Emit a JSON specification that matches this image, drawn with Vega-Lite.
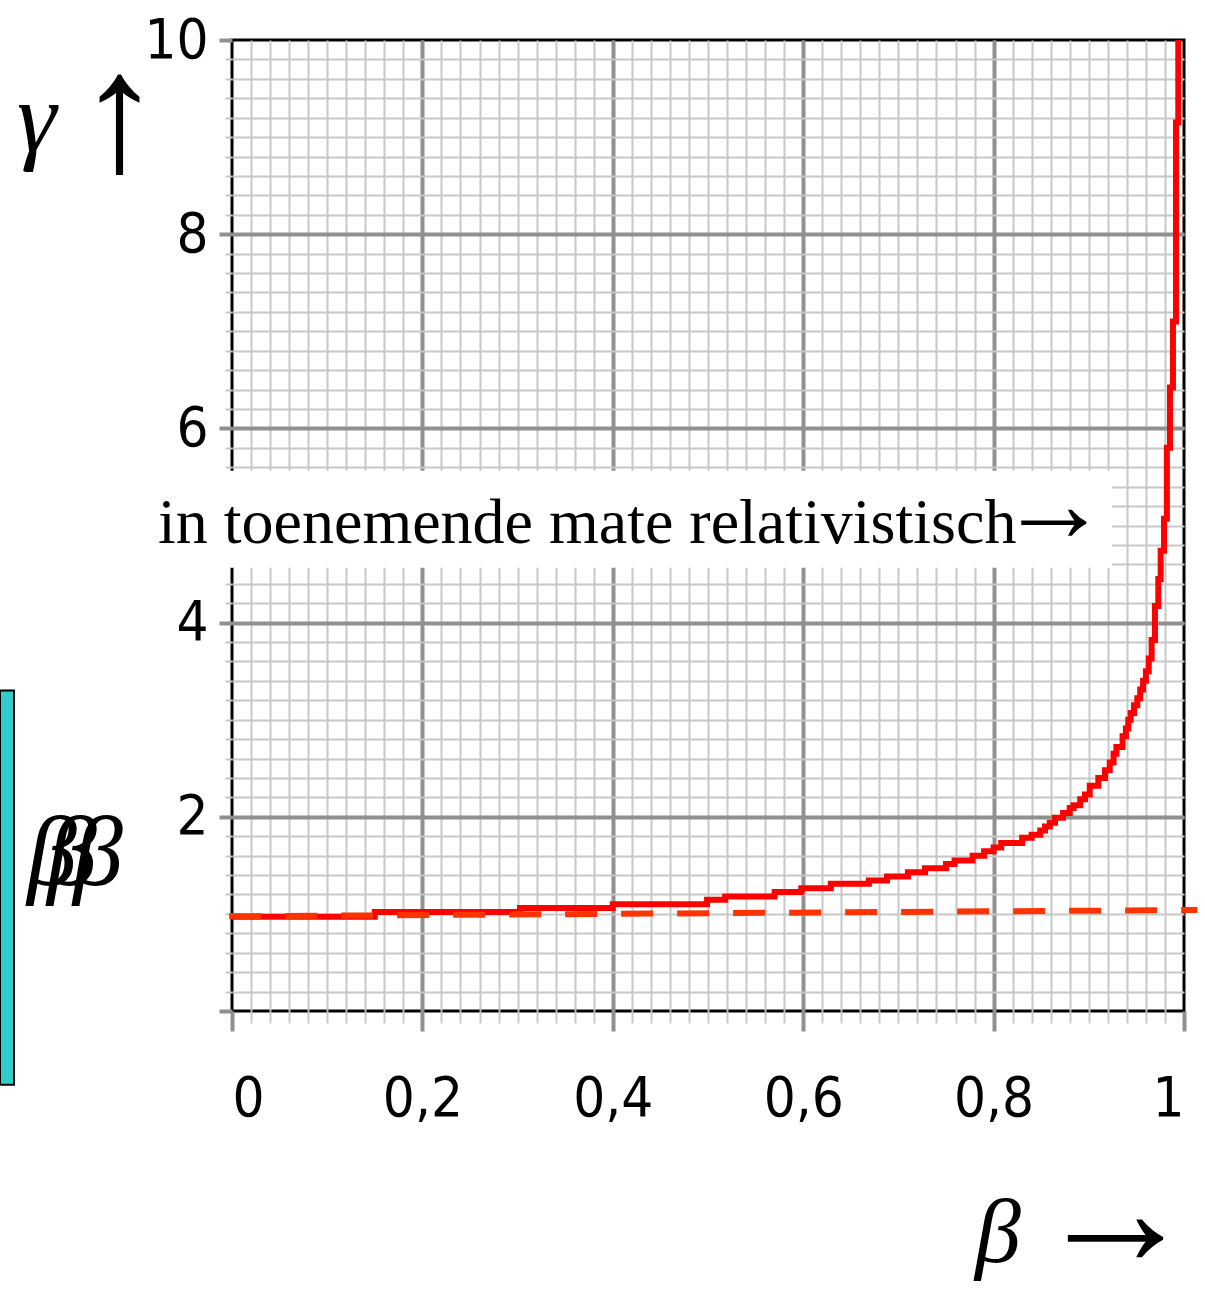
{
  "$schema": "https://vega.github.io/schema/vega-lite/v6.json",
  "width": 952,
  "height": 971,
  "autosize": {"type": "none"},
  "padding": {"left": 232, "top": 40, "right": 21, "bottom": 288},
  "background": "white",
  "config": {
    "view": {"stroke": "#000000", "strokeWidth": 3},
    "axis": {
      "domain": false,
      "title": null,
      "labelFont": "DejaVu Sans Condensed, Roboto Condensed, Liberation Sans Narrow, Roboto",
      "labelFontSize": 56,
      "labelFontWeight": 300,
      "labelColor": "#000000"
    }
  },
  "datasets": {
    "gamma": [
      {"beta": 0, "gamma": 0.97},
      {"beta": 0.15, "gamma": 1.02},
      {"beta": 0.3025, "gamma": 1.06},
      {"beta": 0.4, "gamma": 1.1},
      {"beta": 0.499, "gamma": 1.145},
      {"beta": 0.518, "gamma": 1.18},
      {"beta": 0.57, "gamma": 1.225},
      {"beta": 0.598, "gamma": 1.265},
      {"beta": 0.629, "gamma": 1.31},
      {"beta": 0.669, "gamma": 1.345},
      {"beta": 0.688, "gamma": 1.385},
      {"beta": 0.71, "gamma": 1.43},
      {"beta": 0.728, "gamma": 1.47},
      {"beta": 0.75, "gamma": 1.515},
      {"beta": 0.759, "gamma": 1.55},
      {"beta": 0.778, "gamma": 1.6},
      {"beta": 0.79, "gamma": 1.645},
      {"beta": 0.8, "gamma": 1.685},
      {"beta": 0.808, "gamma": 1.73},
      {"beta": 0.83, "gamma": 1.785},
      {"beta": 0.84, "gamma": 1.815},
      {"beta": 0.849, "gamma": 1.86},
      {"beta": 0.854, "gamma": 1.9},
      {"beta": 0.859, "gamma": 1.94},
      {"beta": 0.8645, "gamma": 1.99},
      {"beta": 0.873, "gamma": 2.04},
      {"beta": 0.88, "gamma": 2.09},
      {"beta": 0.884, "gamma": 2.12},
      {"beta": 0.891, "gamma": 2.18},
      {"beta": 0.896, "gamma": 2.23},
      {"beta": 0.901, "gamma": 2.32},
      {"beta": 0.91, "gamma": 2.4},
      {"beta": 0.917, "gamma": 2.48},
      {"beta": 0.922, "gamma": 2.56},
      {"beta": 0.926, "gamma": 2.65},
      {"beta": 0.929, "gamma": 2.72},
      {"beta": 0.9355, "gamma": 2.83},
      {"beta": 0.939, "gamma": 2.91},
      {"beta": 0.9415, "gamma": 3.0},
      {"beta": 0.944, "gamma": 3.07},
      {"beta": 0.9475, "gamma": 3.15},
      {"beta": 0.951, "gamma": 3.22},
      {"beta": 0.954, "gamma": 3.31},
      {"beta": 0.957, "gamma": 3.4},
      {"beta": 0.96, "gamma": 3.5},
      {"beta": 0.963, "gamma": 3.63},
      {"beta": 0.966, "gamma": 3.82},
      {"beta": 0.9695, "gamma": 4.17},
      {"beta": 0.973, "gamma": 4.45},
      {"beta": 0.9755, "gamma": 4.74},
      {"beta": 0.979, "gamma": 5.07},
      {"beta": 0.982, "gamma": 5.8},
      {"beta": 0.9853, "gamma": 6.42},
      {"beta": 0.9884, "gamma": 7.1},
      {"beta": 0.9916, "gamma": 9.15},
      {"beta": 0.994, "gamma": 10}
    ],
    "classical": [
      {"beta": -0.003, "gamma": 0.975},
      {"beta": 1.014, "gamma": 1.04}
    ]
  },
  "layer": [
    {
      "data": {"values": [{}]},
      "mark": {"type": "rect", "fill": "#33cccc", "stroke": "#000000", "strokeWidth": 2},
      "encoding": {
        "x": {
          "datum": -0.2437, "type": "quantitative",
          "scale": {"domain": [0, 1], "nice": false, "zero": false},
          "axis": {
            "orient": "bottom",
            "values": [0.02,0.04,0.06,0.08,0.1,0.12,0.14,0.16,0.18,0.2,0.22,0.24,0.26,0.28,0.3,0.32,0.34,0.36,0.38,0.4,0.42,0.44,0.46,0.48,0.5,0.52,0.54,0.56,0.58,0.6,0.62,0.64,0.66,0.68,0.7,0.72,0.74,0.76,0.78,0.8,0.82,0.84,0.86,0.88,0.9,0.92,0.94,0.96,0.98],
            "labels": false,
            "grid": true, "gridColor": "#c8c8c8", "gridWidth": 2, "gridOpacity": 1,
            "ticks": true, "tickColor": "#c8c8c8", "tickWidth": 2, "tickSize": 12
          }
        },
        "x2": {"datum": -0.229},
        "y": {
          "datum": -0.76, "type": "quantitative",
          "scale": {"domain": [0, 10], "nice": false, "zero": false},
          "axis": {
            "orient": "left",
            "values": [0.2,0.4,0.6,0.8,1,1.2,1.4,1.6,1.8,2,2.2,2.4,2.6,2.8,3,3.2,3.4,3.6,3.8,4,4.2,4.4,4.6,4.8,5,5.2,5.4,5.6,5.8,6,6.2,6.4,6.6,6.8,7,7.2,7.4,7.6,7.8,8,8.2,8.4,8.6,8.8,9,9.2,9.4,9.6,9.8],
            "labels": false,
            "grid": true, "gridColor": "#c8c8c8", "gridWidth": 2, "gridOpacity": 1,
            "ticks": true, "tickColor": "#c8c8c8", "tickWidth": 2, "tickSize": 7
          }
        },
        "y2": {"datum": 3.3}
      }
    },
    {
      "data": {"values": [{}]},
      "mark": {"type": "rect", "fill": "#ffffff", "stroke": null},
      "encoding": {
        "x": {
          "datum": -0.0966, "type": "quantitative",
          "axis": {
            "orient": "bottom",
            "values": [0, 0.2, 0.4, 0.6, 0.8, 1],
            "labelExpr": "replace(format(datum.value, '~g'), '.', ',')",
            "labelPadding": 40,
            "grid": true,
            "gridColor": {"condition": {"test": "datum.value <= 0 || datum.value >= 1", "value": "transparent"}, "value": "#909090"},
            "gridWidth": 4, "gridOpacity": 1,
            "ticks": true, "tickColor": "#909090", "tickWidth": 4, "tickSize": 20
          }
        },
        "x2": {"datum": 0.9244},
        "y": {
          "datum": 4.564, "type": "quantitative",
          "axis": {
            "orient": "left",
            "values": [0, 2, 4, 6, 8, 10],
            "labelExpr": "datum.value == 0 ? '' : datum.label",
            "labelPadding": 11,
            "grid": true,
            "gridColor": {"condition": {"test": "datum.value <= 0 || datum.value >= 10", "value": "transparent"}, "value": "#909090"},
            "gridWidth": 4, "gridOpacity": 1,
            "ticks": true, "tickColor": "#909090", "tickWidth": 4, "tickSize": 13
          }
        },
        "y2": {"datum": 5.563}
      }
    },
    {
      "data": {"name": "gamma"},
      "mark": {"type": "line", "color": "#ff0000", "strokeWidth": 6, "interpolate": "step-after", "strokeCap": "butt"},
      "encoding": {
        "x": {"field": "beta", "type": "quantitative", "axis": null},
        "y": {"field": "gamma", "type": "quantitative", "axis": null}
      }
    },
    {
      "data": {"name": "classical"},
      "mark": {"type": "line", "color": "#ff3300", "strokeWidth": 6, "strokeDash": [32, 24], "strokeCap": "butt", "clip": false},
      "encoding": {
        "x": {"field": "beta", "type": "quantitative", "axis": null},
        "y": {"field": "gamma", "type": "quantitative", "axis": null}
      }
    },
    {
      "data": {"values": [{"note": "in toenemende mate relativistisch"}]},
      "mark": {"type": "text", "font": "Liberation Serif", "fontSize": 64, "align": "left", "baseline": "alphabetic", "color": "#000000"},
      "encoding": {
        "x": {"datum": -0.0777, "type": "quantitative", "axis": null},
        "y": {"datum": 4.822, "type": "quantitative", "axis": null},
        "text": {"field": "note"}
      }
    },
    {
      "data": {"values": [{"sym": "→"}]},
      "mark": {"type": "text", "font": "Liberation Serif", "fontSize": 110, "align": "left", "baseline": "alphabetic", "color": "#000000"},
      "encoding": {
        "x": {"datum": 0.8057, "type": "quantitative", "axis": null},
        "y": {"datum": 4.842, "type": "quantitative", "axis": null},
        "text": {"field": "sym"}
      }
    },
    {
      "data": {"values": [{"sym": "γ"}]},
      "mark": {"type": "text", "font": "Liberation Serif", "fontStyle": "italic", "fontSize": 100, "align": "left", "baseline": "alphabetic", "color": "#000000"},
      "encoding": {
        "x": {"datum": -0.2258, "type": "quantitative", "axis": null},
        "y": {"datum": 8.86, "type": "quantitative", "axis": null},
        "text": {"field": "sym"}
      }
    },
    {
      "data": {"values": [{"sym": "↑"}]},
      "mark": {"type": "text", "font": "Liberation Serif", "fontSize": 170, "align": "left", "baseline": "alphabetic", "color": "#000000"},
      "encoding": {
        "x": {"datum": -0.1628, "type": "quantitative", "axis": null},
        "y": {"datum": 8.663, "type": "quantitative", "axis": null},
        "text": {"field": "sym"}
      }
    },
    {
      "data": {"values": [{"sym": "β"}]},
      "mark": {"type": "text", "font": "Liberation Serif", "fontStyle": "italic", "fontSize": 92, "align": "left", "baseline": "alphabetic", "color": "#000000"},
      "encoding": {
        "x": {"datum": 0.7805, "type": "quantitative", "axis": null},
        "y": {"datum": -2.583, "type": "quantitative", "axis": null},
        "text": {"field": "sym"}
      }
    },
    {
      "data": {"values": [{"sym": "→"}]},
      "mark": {"type": "text", "font": "Liberation Serif", "fontSize": 161, "align": "left", "baseline": "alphabetic", "color": "#000000"},
      "encoding": {
        "x": {"datum": 0.8435, "type": "quantitative", "axis": null},
        "y": {"datum": -2.618, "type": "quantitative", "axis": null},
        "text": {"field": "sym"}
      }
    },
    {
      "data": {"values": [{"sym": "β", "at": -0.2153}, {"sym": "β", "at": -0.1943}, {"sym": "β", "at": -0.167}]},
      "mark": {"type": "text", "font": "Liberation Serif", "fontStyle": "italic", "fontSize": 100, "align": "left", "baseline": "alphabetic", "color": "#000000"},
      "encoding": {
        "x": {"field": "at", "type": "quantitative", "axis": null},
        "y": {"datum": 1.3, "type": "quantitative", "axis": null},
        "text": {"field": "sym"}
      }
    }
  ],
  "resolve": {"axis": {"x": "independent", "y": "independent"}}
}
